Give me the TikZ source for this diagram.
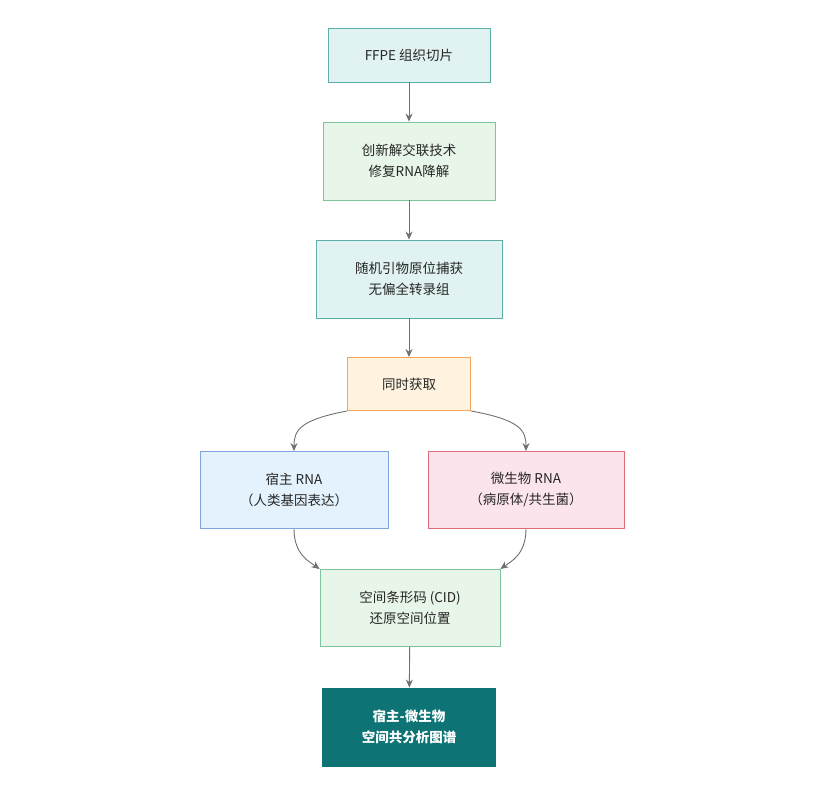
\documentclass[tikz,border=0pt]{standalone}
\usepackage{fontspec}
\setmainfont{Noto Sans CJK SC}
\usetikzlibrary{arrows.meta}
\definecolor{tealF}{HTML}{E0F2F1}\definecolor{tealD}{HTML}{5DADA8}
\definecolor{grnF}{HTML}{E8F5E9}\definecolor{grnD}{HTML}{7DC49A}
\definecolor{orgF}{HTML}{FFF3E0}\definecolor{orgD}{HTML}{F2A65E}
\definecolor{bluF}{HTML}{E3F2FD}\definecolor{bluD}{HTML}{7FA6DC}
\definecolor{pnkF}{HTML}{FCE4EC}\definecolor{pnkD}{HTML}{E06C75}
\definecolor{dark}{HTML}{0E7374}
\definecolor{arr}{HTML}{707070}
\begin{document}
\begin{tikzpicture}[x=1pt,y=-1pt,
 box/.style={draw,line width=0.9pt,align=center,font=\fontsize{13.5}{21}\selectfont,inner sep=0pt,text=black!85},
 ar/.style={draw=arr,line width=0.9pt,-{Stealth[length=8pt,width=7pt]}}]
\useasboundingbox (0,0) rectangle (827,788);
\node[box,fill=tealF,draw=tealD,minimum width=162,minimum height=54] (a) at (409,55) {FFPE 组织切片};
\node[box,fill=grnF,draw=grnD,minimum width=172,minimum height=78] (b) at (409,161) {创新解交联技术\\修复RNA降解};
\node[box,fill=tealF,draw=tealD,minimum width=186,minimum height=78] (c) at (409,279) {随机引物原位捕获\\无偏全转录组};
\node[box,fill=orgF,draw=orgD,minimum width=123,minimum height=53] (d) at (409,384) {同时获取};
\node[box,fill=bluF,draw=bluD,minimum width=188,minimum height=77] (e) at (294,490) {宿主 RNA\\（人类基因表达）};
\node[box,fill=pnkF,draw=pnkD,minimum width=196,minimum height=77] (f) at (526,490) {微生物 RNA\\（病原体/共生菌）};
\node[box,fill=grnF,draw=grnD,minimum width=180,minimum height=77] (g) at (410,608) {空间条形码 (CID)\\还原空间位置};
\node[box,fill=dark,draw=dark,text=white,font=\fontsize{13.5}{21}\selectfont\bfseries,minimum width=173,minimum height=78] (h) at (409,727) {宿主-微生物\\空间共分析图谱};
\draw[ar] (a) -- (b);
\draw[ar] (b) -- (c);
\draw[ar] (c) -- (d);
\draw[ar] (d.south west) .. controls (300,420) and (294,430) .. (e.north);
\draw[ar] (d.south east) .. controls (520,420) and (526,430) .. (f.north);
\draw[ar] (e.south) .. controls (294,555) and (310,562) .. (g.north west);
\draw[ar] (f.south) .. controls (526,555) and (510,562) .. (g.north east);
\draw[ar] (g) -- (h);
\end{tikzpicture}
\end{document}
